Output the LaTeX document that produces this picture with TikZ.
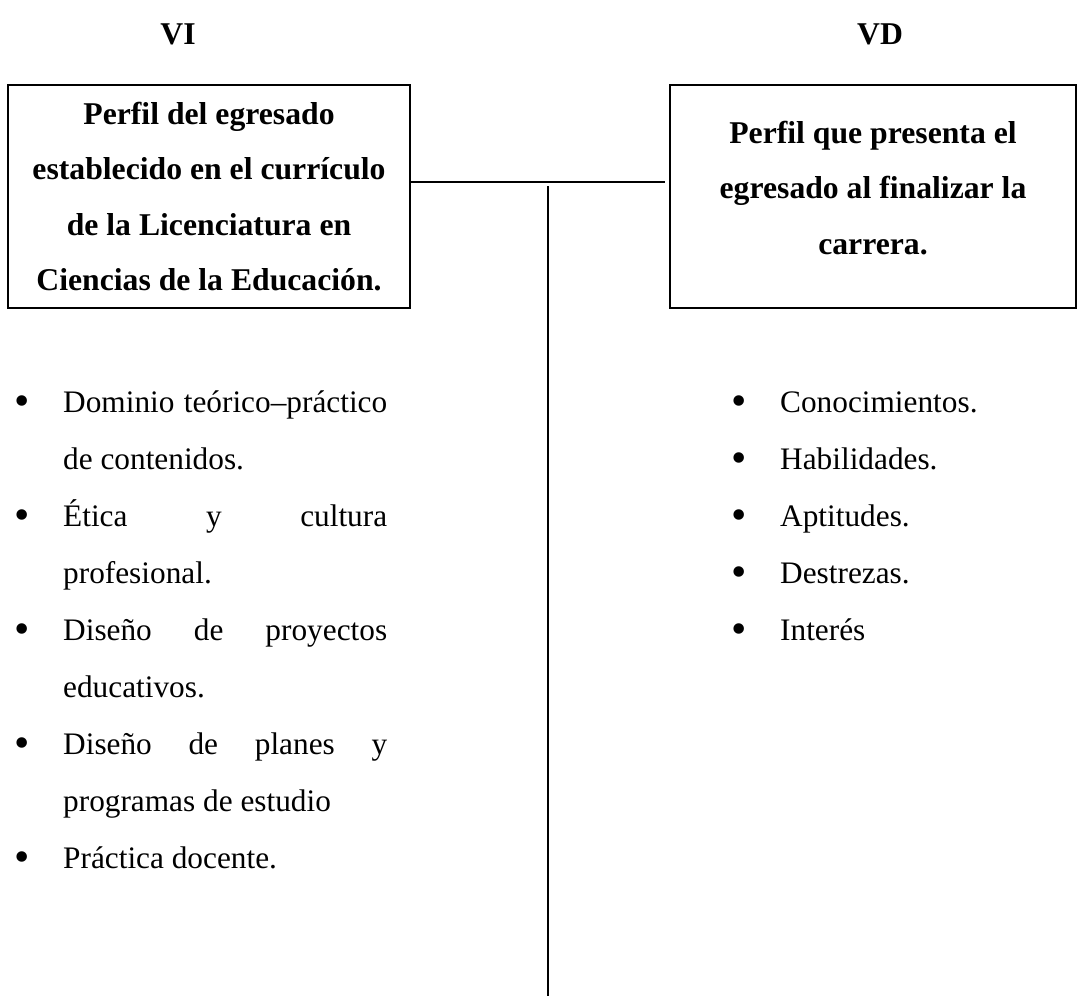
\documentclass[tikz,border=0pt]{standalone}
\usepackage{fontspec}
\usepackage{graphicx}
\setmainfont{Liberation Serif}
\newlength{\itemw}
\setlength{\itemw}{324pt}
\newcommand{\bul}{\llap{\raisebox{-0.12em}{\scalebox{1.4}{•}}\hspace{33pt}}}
\begin{document}
\begin{tikzpicture}[x=1pt,y=-1pt,
  boxstyle/.style={draw, line width=2.5pt, align=center, inner sep=0pt,
    font=\fontsize{31.7}{55.5}\selectfont\bfseries},
  head/.style={font=\fontsize{31.7}{38}\selectfont\bfseries, inner sep=0pt, anchor=base},
  listitem/.style={font=\fontsize{31.3}{57}\selectfont, inner sep=0pt, anchor=base west, align=left},
  conn/.style={line width=2pt}]
\useasboundingbox (0,0) rectangle (1078,997);
% headers
\node[head] (hvi) at (178,44) {VI};
\node[head] (hvd) at (880,44) {VD};
% boxes
\node[boxstyle, minimum width=402pt, minimum height=223pt] (vi) at (209,196.5)
  {Perfil del egresado\\establecido en el currículo\\de la Licenciatura en\\Ciencias de la Educación.};
\node[boxstyle, minimum width=406pt, minimum height=223pt] (vd) at (873,196.5)
  {Perfil que presenta el\\egresado al finalizar la\\carrera.\rule[-18pt]{0pt}{18pt}};
% connectors
\coordinate (vtop) at (548,186);
\coordinate (vbot) at (548,996);
\draw[conn, shorten >=4pt] (vi.east |- 0,182) -- (vd.west |- 0,182);
\draw[conn] (vtop) -- (vbot);
% left list (base anchor = baseline of last line)
\node[listitem] (l1) at (63,469) {\bul\makebox[\itemw][s]{Dominio teórico–práctico}\\de contenidos.};
\node[listitem] (l2) at (63,583) {\bul\makebox[\itemw][s]{Ética y cultura}\\profesional.};
\node[listitem] (l3) at (63,697) {\bul\makebox[\itemw][s]{Diseño de proyectos}\\educativos.};
\node[listitem] (l4) at (63,811) {\bul\makebox[\itemw][s]{Diseño de planes y}\\programas de estudio};
\node[listitem] (l5) at (63,868) {\bul Práctica docente.};
% right list
\node[listitem] (r1) at (780,412) {\bul Conocimientos.};
\node[listitem] (r2) at (780,469) {\bul Habilidades.};
\node[listitem] (r3) at (780,526) {\bul Aptitudes.};
\node[listitem] (r4) at (780,583) {\bul Destrezas.};
\node[listitem] (r5) at (780,640) {\bul Interés};
\end{tikzpicture}
\end{document}
